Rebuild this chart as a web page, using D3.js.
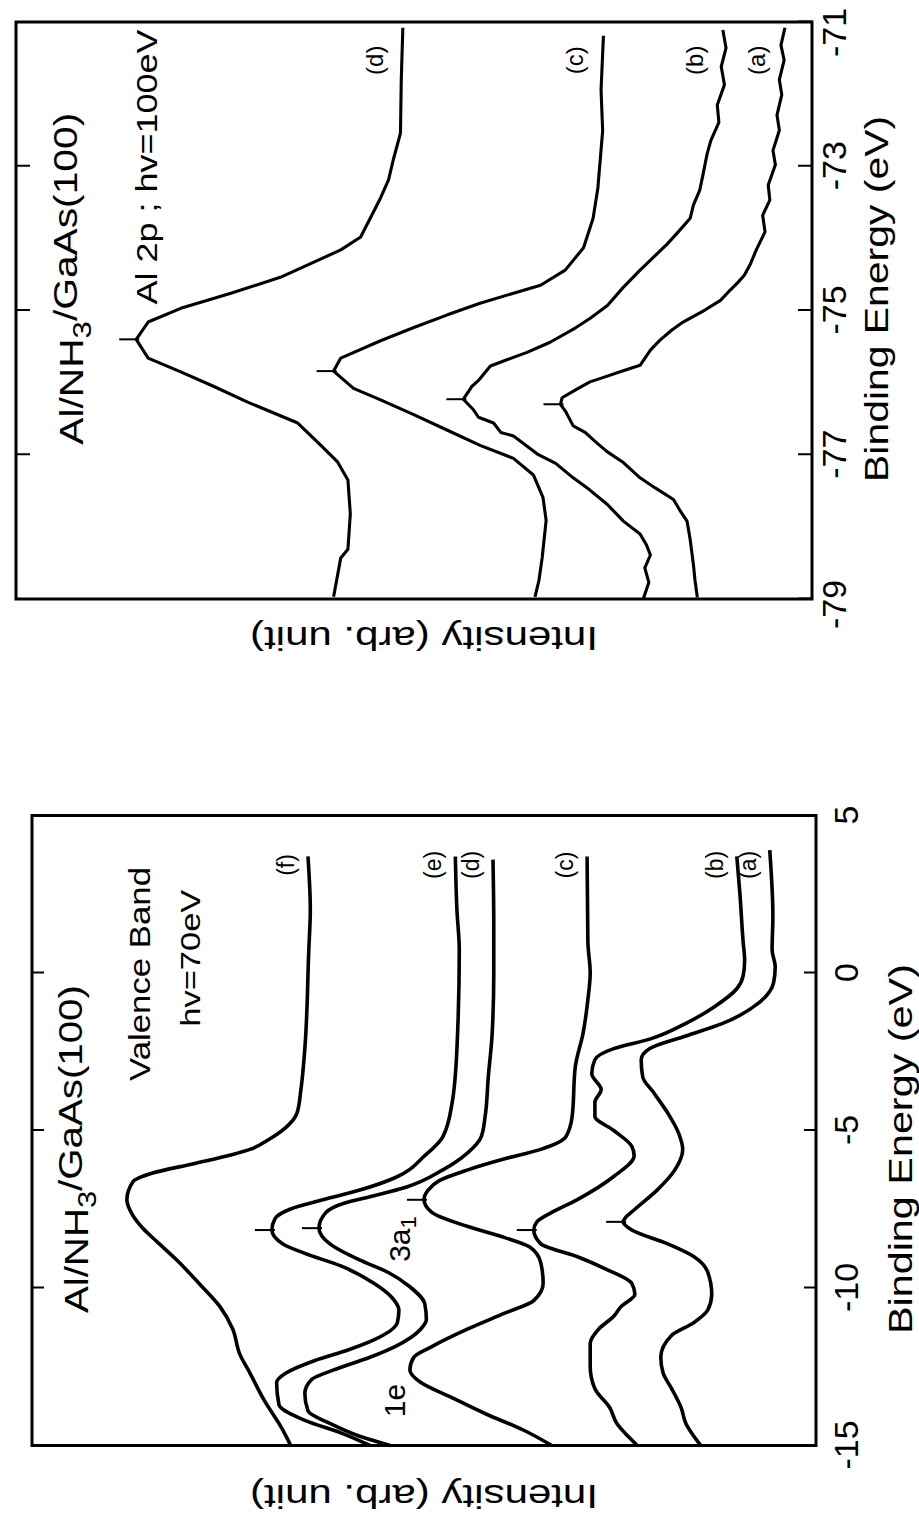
<!DOCTYPE html>
<html>
<head>
<meta charset="utf-8">
<script src="https://cdn.jsdelivr.net/npm/d3@7"></script>
<style>
  body { margin: 0; background: #fff; }
  text { font-family: "Liberation Sans", Arial, Helvetica, sans-serif; fill: #000; }
</style>
</head>
<body>
<div id="chart"></div>
<script>
// Al 2p core level, hv=100eV  -- [binding energy (eV), intensity (arb.)]
const al2pA = [[-71.08,3.4],[-71.32,3.9],[-71.53,3.5],[-71.80,4.1],[-72.01,3.8],[-72.29,4.4],[-72.50,4.1],
  [-72.78,4.9],[-72.98,4.6],[-73.26,5.5],[-73.47,5.3],[-73.68,6.2],[-73.91,5.9],[-74.16,7.0],[-74.37,7.8],
  [-74.51,8.5],[-74.61,9.3],[-74.72,10.3],[-74.86,11.5],[-74.99,13.4],[-75.16,16.2],[-75.27,17.6],
  [-75.41,19.1],[-75.55,20.3],[-75.76,21.6],[-75.85,24.1],[-75.92,26.0],[-75.99,27.9],[-76.10,29.7],
  [-76.21,31.4],[-76.30,31.6],[-76.41,30.9],[-76.60,30.0],[-76.69,28.5],[-76.85,26.9],[-76.96,25.7],
  [-77.10,23.8],[-77.32,21.6],[-77.46,19.7],[-77.62,17.4],[-77.77,16.6],[-77.92,15.7],[-78.18,15.3],
  [-78.52,14.9],[-78.74,14.7],[-78.98,14.4]];
const al2pB = [[-71.11,11.2],[-71.36,10.8],[-71.62,11.4],[-71.87,11.0],[-72.15,11.9],[-72.39,11.7],
  [-72.64,12.7],[-72.84,13.2],[-73.12,13.7],[-73.33,14.1],[-73.54,14.9],[-73.72,15.3],[-73.91,16.8],
  [-74.08,18.2],[-74.26,19.9],[-74.44,21.6],[-74.69,23.8],[-74.93,25.7],[-75.11,27.9],[-75.24,29.7],
  [-75.44,32.9],[-75.58,35.8],[-75.69,38.5],[-75.77,40.4],[-75.85,41.0],[-75.97,41.9],[-76.05,42.7],
  [-76.23,43.8],[-76.38,42.5],[-76.48,41.9],[-76.56,40.0],[-76.69,39.1],[-76.74,37.5],[-76.99,34.5],
  [-77.12,32.2],[-77.32,30.0],[-77.49,27.9],[-77.69,25.7],[-77.92,23.7],[-78.10,21.6],[-78.25,20.8],
  [-78.39,20.3],[-78.57,21.0],[-78.77,20.5],[-79.00,21.2]];
const al2pC = [[-71.19,26.2],[-71.94,26.5],[-72.51,26.3],[-73.30,26.9],[-73.72,27.5],[-74.13,28.7],
  [-74.44,31.0],[-74.65,34.1],[-74.76,37.5],[-74.90,41.7],[-75.06,45.8],[-75.24,50.1],[-75.42,54.2],
  [-75.66,59.2],[-75.84,60.1],[-76.08,57.6],[-76.24,54.2],[-76.44,50.1],[-76.66,45.8],[-76.87,41.7],
  [-77.05,37.5],[-77.28,35.0],[-77.59,33.8],[-77.91,33.4],[-78.43,33.9],[-78.74,34.3],[-78.97,34.8]];
const al2pD = [[-71.08,51.4],[-71.80,51.6],[-72.54,51.7],[-72.91,52.6],[-73.19,53.2],[-73.44,54.2],
  [-73.98,56.7],[-74.16,59.2],[-74.27,61.4],[-74.54,66.8],[-74.76,73.0],[-74.97,79.3],[-75.16,83.4],
  [-75.40,84.9],[-75.66,83.4],[-75.85,79.3],[-76.05,75.2],[-76.27,70.9],[-76.56,64.6],[-76.87,61.7],
  [-77.10,59.6],[-77.35,58.3],[-77.82,58.0],[-78.31,58.3],[-78.43,59.2],[-78.97,60.1]];
const al2pLabels = ['(a)', '(b)', '(c)', '(d)'];
const al2pPeaks = [-76.30, -76.23, -75.84, -75.40];

// Valence band, hv=70eV
const vbA = [[3.9,5.9],[1.8,5.5],[0.74,5.6],[0.2,5.2],[-0.3,5.4],[-0.95,7.3],[-1.6,11.9],[-2.0,16.6],
  [-2.4,21.2],[-2.75,22.3],[-3.3,22.1],[-3.8,20.7],[-4.45,18.9],[-5.1,17.5],[-5.6,17.0],[-6.25,18.0],
  [-6.9,20.3],[-7.5,23.1],[-7.8,24.4],[-7.9,24.6],[-8.16,23.5],[-8.6,18.9],[-9.0,15.6],[-9.5,13.8],
  [-10.2,13.3],[-10.7,13.8],[-11.1,15.6],[-11.5,18.4],[-12.2,19.8],[-12.7,19.5],[-13.2,18.4],
  [-13.8,17.2],[-14.3,16.6],[-14.7,15.6],[-15.0,14.7]];
const vbB = [[3.7,10.1],[2.5,9.7],[1.0,9.3],[0.4,9.1],[-0.1,9.3],[-0.5,10.1],[-1.06,12.9],[-1.6,16.6],
  [-2.1,21.2],[-2.4,25.8],[-2.75,28.2],[-3.2,28.6],[-3.7,27.4],[-4.1,28.2],[-4.55,28.2],[-5.0,25.8],
  [-5.5,23.5],[-5.8,23.2],[-6.46,25.8],[-7.2,30.5],[-7.6,33.7],[-7.9,35.6],[-8.16,36.0],[-8.6,35.1],
  [-9.0,30.5],[-9.4,26.8],[-9.85,23.5],[-10.2,23.1],[-10.6,24.9],[-10.9,25.8],[-11.3,27.7],
  [-11.76,28.8],[-12.5,28.8],[-13.2,28.2],[-13.8,26.3],[-14.3,25.4],[-14.7,24.0],[-15.0,22.8]];
const vbC = [[3.7,29.2],[1.0,29.1],[0.0,28.8],[-0.85,29.1],[-1.9,29.7],[-2.97,30.7],[-4.55,31.1],
  [-5.2,31.9],[-5.6,35.1],[-5.9,39.7],[-6.25,44.4],[-6.6,48.1],[-6.9,49.5],[-7.2,50.0],[-7.6,49.0],
  [-8.05,44.4],[-8.4,39.7],[-8.7,36.5],[-9.2,35.1],[-9.85,34.8],[-10.4,36.0],[-10.8,39.7],[-11.3,44.4],
  [-11.86,49.0],[-12.2,51.3],[-12.6,51.8],[-13.0,50.4],[-13.45,46.7],[-14.0,42.1],[-14.5,37.4],[-15.0,33.7]];
const vbD = [[3.6,41.2],[1.5,41.1],[0.0,41.1],[-1.9,41.3],[-3.3,41.8],[-4.55,42.2],[-5.2,42.7],
  [-5.7,44.4],[-6.25,47.6],[-6.8,52.3],[-7.1,56.9],[-7.3,60.1],[-7.6,62.5],[-8.1,63.4],[-8.6,62.0],
  [-9.1,58.3],[-9.5,54.6],[-9.96,51.8],[-10.5,49.9],[-11.0,49.7],[-11.3,50.4],[-11.86,53.7],
  [-12.2,56.9],[-12.6,61.5],[-12.9,64.3],[-13.35,65.2],[-13.9,64.8],[-14.3,62.0],[-14.7,58.3],[-15.0,54.3]];
const vbE = [[3.7,46.0],[2.0,45.8],[0.74,45.5],[-2.4,45.8],[-4.1,46.4],[-5.2,47.6],[-5.8,49.9],
  [-6.5,53.7],[-6.9,58.3],[-7.2,62.9],[-7.5,67.1],[-7.8,69.0],[-8.16,69.4],[-8.6,68.0],[-8.9,65.2],
  [-9.3,60.6],[-9.85,56.4],[-10.3,54.1],[-10.7,53.2],[-11.1,53.4],[-11.65,56.4],[-11.97,59.7],
  [-12.3,63.9],[-12.7,67.6],[-13.0,68.8],[-13.7,68.5],[-14.2,65.2],[-14.6,60.6],[-15.0,56.9]];
const vbF = [[3.7,64.8],[2.0,64.5],[0.7,64.7],[-2.4,65.2],[-3.7,65.7],[-4.45,66.2],[-4.9,67.6],
  [-5.3,69.9],[-5.6,72.2],[-5.76,74.4],[-6.06,79.5],[-6.35,84.6],[-6.62,87.1],[-7.2,87.9],[-7.67,87.2],
  [-8.12,85.8],[-8.52,84.1],[-9.12,81.5],[-9.88,78.6],[-10.6,76.0],[-11.3,74.4],[-12.1,73.5],
  [-12.7,72.2],[-13.6,70.3],[-14.3,68.5],[-14.7,67.6],[-15.0,67.0]];
const vbLabels = ['(a)', '(b)', '(c)', '(d)', '(e)', '(f)'];
const vbPeaks = [-7.9, -8.16, -7.2, -8.1, -8.16, null];

const al2pTicks = [-79, -77, -75, -73, -71];
const vbTicks = [-15, -10, -5, 0, 5];

const W = 919, H = 1526;
const svg = d3.select('#chart').append('svg')
  .attr('width', W)
  .attr('height', H);

const fmt = (d) => (d < 0 ? '-' + Math.abs(d) : String(d));

// every panel is drawn as an ordinary spectrum, then turned a quarter turn
function drawPanel(p) {
  const len = p.bottom - p.top;
  const g = svg.append('g')
    .attr('transform', `translate(0,${p.bottom}) rotate(-90)`);

  const x = d3.scaleLinear().domain(d3.extent(p.ticks)).range([0, len]);
  const y = d3.scaleLinear().domain([0, 100]).range([p.right, p.left]);

  const bottomAxis = g.append('g')
    .attr('transform', `translate(0,${p.right})`)
    .call(d3.axisBottom(x)
      .tickValues(p.ticks)
      .tickSizeInner(-p.tickLen)
      .tickSizeOuter(0)
      .tickPadding(p.pad)
      .tickFormat(fmt));
  bottomAxis.select('.domain').remove();
  bottomAxis.selectAll('line').attr('stroke-width', 2);
  bottomAxis.selectAll('text')
    .style('font-size', '34px')
    .attr('dx', (d, i, n) => (i === 0 ? p.endNudge[0] : i === n.length - 1 ? p.endNudge[1] : 0));

  const topAxis = g.append('g')
    .attr('transform', `translate(0,${p.left})`)
    .call(d3.axisTop(x)
      .tickValues(p.ticks.slice(1, -1))
      .tickSizeInner(-p.tickLen)
      .tickSizeOuter(0)
      .tickFormat(''));
  topAxis.select('.domain').remove();
  topAxis.selectAll('line').attr('stroke-width', 2);

  g.append('rect')
    .attr('x', 0)
    .attr('y', p.left)
    .attr('width', len)
    .attr('height', p.right - p.left)
    .attr('fill', 'none')
    .attr('stroke', '#000')
    .attr('stroke-width', 3);

  const line = d3.line()
    .x((d) => x(d[0]))
    .y((d) => y(d[1]))
    .curve(p.curve);

  p.series.forEach((s, i) => {
    const pts = s.slice().sort((a, b) => a[0] - b[0]);
    g.append('path')
      .datum(pts)
      .attr('d', line)
      .attr('fill', 'none')
      .attr('stroke', '#000')
      .attr('stroke-width', p.lineWidth)
      .attr('stroke-linejoin', 'round');

    // peak position marker
    if (p.peaks[i] != null) {
      const pk = s.find((d) => d[0] === p.peaks[i]);
      g.append('line')
        .attr('x1', x(pk[0])).attr('x2', x(pk[0]))
        .attr('y1', y(pk[1]) - 17).attr('y2', y(pk[1]) + 3)
        .attr('stroke', '#000')
        .attr('stroke-width', 2);
    }

    // curve label above the high-energy end
    const end = pts[pts.length - 1];
    g.append('text')
      .attr('x', x(p.labelE))
      .attr('y', y(end[1]) - p.labelGap)
      .attr('text-anchor', 'middle')
      .style('font-size', p.labelSize + 'px')
      .text(p.labels[i]);
  });

  g.append('text')
    .attr('x', x(p.xTitleE))
    .attr('y', p.right + p.xTitleGap)
    .attr('text-anchor', 'middle')
    .attr('textLength', p.xTitleLen)
    .attr('lengthAdjust', 'spacingAndGlyphs')
    .style('font-size', '33px')
    .text('Binding Energy (eV)');

  g.append('text')
    .attr('transform', `translate(${-p.yTitleGap},424) rotate(-90)`)
    .attr('text-anchor', 'middle')
    .attr('textLength', 348)
    .attr('lengthAdjust', 'spacingAndGlyphs')
    .style('font-size', '34px')
    .text('Intensity (arb. unit)');

  const title = g.append('text')
    .attr('x', x(p.title[0]))
    .attr('y', y(p.title[1]))
    .attr('text-anchor', 'middle')
    .attr('textLength', p.title[2])
    .attr('lengthAdjust', 'spacingAndGlyphs')
    .style('font-size', '34px');
  title.append('tspan').text('Al/NH');
  title.append('tspan').attr('dy', '0.32em').style('font-size', '26px').text('3');
  title.append('tspan').attr('dy', '-0.42em').text('/GaAs(100)');

  p.notes.forEach((n) => {
    const t = g.append('text')
      .attr('x', x(n.e))
      .attr('y', y(n.i))
      .attr('text-anchor', n.anchor || 'middle')
      .style('font-size', n.size + 'px');
    if (n.len) t.attr('textLength', n.len).attr('lengthAdjust', 'spacingAndGlyphs');
    t.append('tspan').text(n.text);
    if (n.sub) t.append('tspan').attr('dy', '0.3em').style('font-size', '22px').text(n.sub);
  });
}

drawPanel({
  top: 22, bottom: 599, left: 16, right: 812,
  ticks: al2pTicks, tickLen: 14, pad: 10, endNudge: [-6, -11],
  series: [al2pA, al2pB, al2pC, al2pD],
  labels: al2pLabels, peaks: al2pPeaks,
  labelE: -71.53, labelGap: 20, labelSize: 24,
  curve: d3.curveLinear, lineWidth: 3.1,
  xTitleE: -74.84, xTitleGap: 76, xTitleLen: 366,
  yTitleGap: 28,
  title: [-74.56, 91.6, 332],
  notes: [{ text: 'Al 2p ; hv=100eV', e: -73.01, i: 82.3, size: 29, len: 275 }]
});

drawPanel({
  top: 815.5, bottom: 1445.5, left: 32, right: 816,
  ticks: vbTicks, tickLen: 12, pad: 18, endNudge: [0, 0],
  series: [vbA, vbB, vbC, vbD, vbE, vbF],
  labels: vbLabels, peaks: vbPeaks,
  labelE: 3.43, labelGap: 14, labelSize: 23,
  curve: d3.curveMonotoneX, lineWidth: 3.6,
  xTitleE: -5.59, xTitleGap: 96, xTitleLen: 370,
  yTitleGap: 39.5,
  title: [-5.59, 92.9, 328],
  notes: [
    { text: 'Valence Band', e: -0.03, i: 84.9, size: 30, len: 214 },
    { text: 'hv=70eV', e: 0.47, i: 78.6, size: 28, len: 137 },
    { text: '3a', sub: '1', e: -9.17, i: 51.8, size: 30, anchor: 'start' },
    { text: '1e', e: -14.1, i: 52.4, size: 30, anchor: 'start' }
  ]
});
</script>
</body>
</html>
